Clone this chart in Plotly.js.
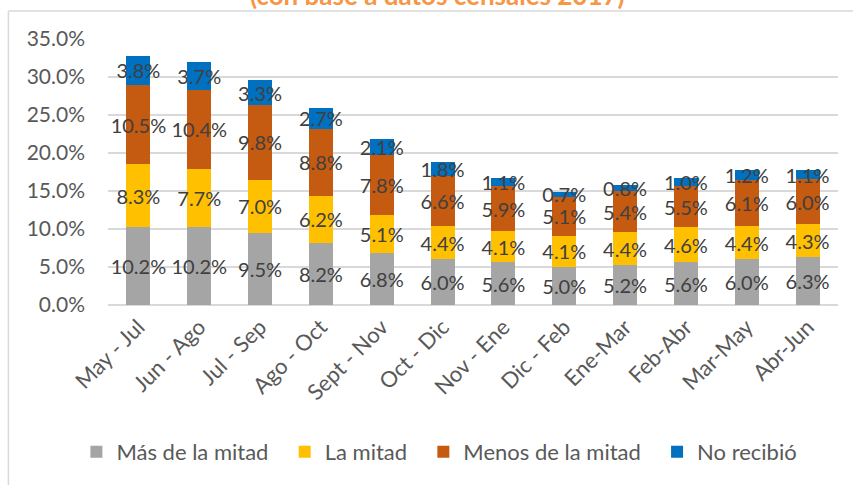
<!DOCTYPE html>
<html>
<head>
<meta charset="utf-8">
<script src="https://cdn.plot.ly/plotly-3.0.1.min.js"></script>
<style>html,body{margin:0;padding:0;background:#fff;}#chart{width:853px;height:485px;}</style>
</head>
<body>
<div id="chart"></div>
<script>
const categories = ["May - Jul","Jun - Ago","Jul - Sep","Ago - Oct","Sept - Nov","Oct - Dic","Nov - Ene","Dic - Feb","Ene-Mar","Feb-Abr","Mar-May","Abr-Jun"];
const masDeLaMitad   = [10.2,10.2,9.5,8.2,6.8,6.0,5.6,5.0,5.2,5.6,6.0,6.3];
const laMitad        = [8.3,7.7,7.0,6.2,5.1,4.4,4.1,4.1,4.4,4.6,4.4,4.3];
const menosDeLaMitad = [10.5,10.4,9.8,8.8,7.8,6.6,5.9,5.1,5.4,5.5,6.1,6.0];
const noRecibio      = [3.8,3.7,3.3,2.7,2.1,1.8,1.1,0.7,0.8,1.0,1.2,1.1];
const seriesNames = ["Más de la mitad","La mitad","Menos de la mitad","No recibió"];
const titleText = "(con base a datos censales 2017)";

const colors = ["#A5A5A5","#FFC000","#C55A11","#0070C0"];
const allSeries = [masDeLaMitad, laMitad, menosDeLaMitad, noRecibio];
const FONT = "Lato, 'Liberation Sans', sans-serif";

const traces = allSeries.map((vals, i) => ({
  type: "bar",
  name: seriesNames[i] + (i < allSeries.length - 1 ? "\u00a0\u00a0" : ""),
  x: categories,
  y: vals,
  marker: {color: colors[i], line: {width: 0}},
  texttemplate: "%{y:.1f}%",
  textposition: "inside",
  insidetextanchor: "middle",
  textangle: 0,
  constraintext: "none",
  cliponaxis: false,
  textfont: {family: FONT, size: 20, color: "#404040"},
  hoverinfo: "skip"
}));

const L = 107.6, R = 837.6, T = 39, B = 305;
const px2x = p => (p - L) / (R - L);
const px2y = p => (B - p) / (B - T);

const layout = {
  width: 853, height: 485,
  margin: {l: L, r: 853 - R, t: T, b: 485 - B, pad: 0},
  paper_bgcolor: "#ffffff",
  plot_bgcolor: "#ffffff",
  barmode: "stack",
  bargap: 0.605,
  showlegend: true,
  legend: {
    orientation: "h", x: px2x(76), xanchor: "left", y: px2y(452), yanchor: "middle",
    font: {family: FONT, size: 22, color: "#595959"},
    traceorder: "normal", itemwidth: 30
  },
  font: {family: FONT},
  xaxis: {
    type: "category",
    tickangle: -45,
    tickfont: {family: FONT, size: 22, color: "#595959"},
    showgrid: false, showline: false, ticks: "", zeroline: false,
    ticklabelstandoff: 4
  },
  yaxis: {
    range: [0, 35], dtick: 5, tick0: 0,
    tickformat: ".1f", ticksuffix: "%",
    tickfont: {family: FONT, size: 21, color: "#595959"},
    gridcolor: "#D9D9D9", gridwidth: 1.5,
    zeroline: true, zerolinecolor: "#D9D9D9", zerolinewidth: 1.5,
    showline: false, ticks: "",
    ticklabelstandoff: 22
  },
  annotations: [{
    text: "<b>" + titleText + "</b>",
    xref: "paper", yref: "paper",
    x: px2x(437), y: px2y(-5), xanchor: "center", yanchor: "middle",
    showarrow: false,
    font: {family: FONT, size: 26, color: "#F79646"}
  }],
  shapes: [
    {type: "line", xref: "paper", yref: "paper", x0: px2x(8), x1: px2x(853), y0: px2y(11), y1: px2y(11), line: {color: "#D9D9D9", width: 1.5}},
    {type: "line", xref: "paper", yref: "paper", x0: px2x(8), x1: px2x(8), y0: px2y(11), y1: px2y(485), line: {color: "#D9D9D9", width: 1.5}}
  ]
};

Plotly.newPlot("chart", traces, layout, {displayModeBar: false, staticPlot: true});
</script>
</body>
</html>
